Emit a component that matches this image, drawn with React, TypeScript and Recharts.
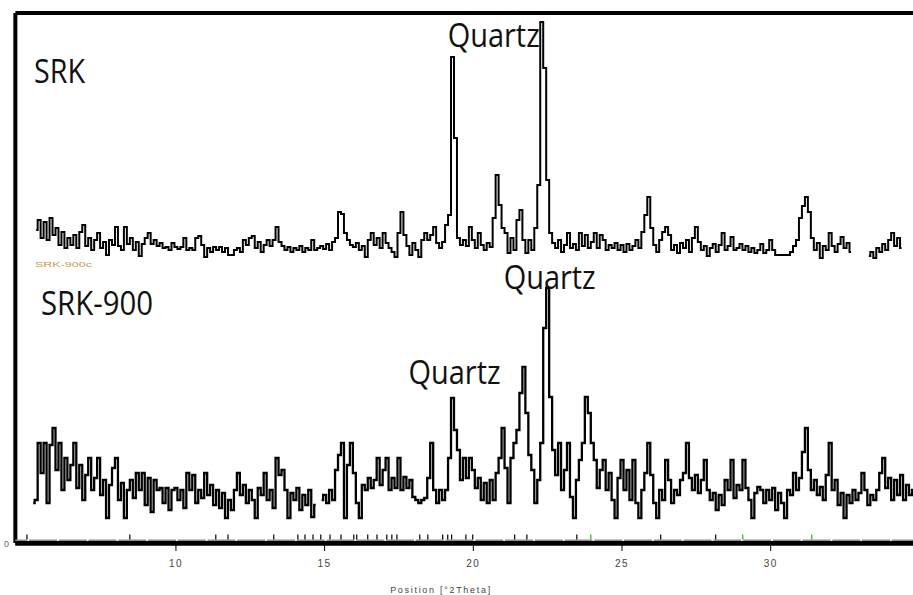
import React from "react";
import { LineChart, Line, XAxis, YAxis, ReferenceLine, ReferenceDot } from "recharts";

// scan grid in °2θ
const SCAN_START = 5.0;
const SCAN_STEP = 0.1;

// SRK counts, one row per degree (x.0 … x.9), 5° to 34°
const srkCounts: (number | null)[][] = [
  [null, null, null, 63, 73, 55, 71, 53, 75, 58],
  [65, 48, 61, 45, 55, 48, 58, 45, 61, 68],
  [47, 55, 43, 53, 60, 45, 51, 38, 53, 48],
  [66, 47, 43, 66, 49, 55, 43, 51, 37, 49],
  [55, 60, 49, 53, 47, 50, 45, 46, 43, 50],
  [46, 44, 46, 55, 43, 45, 43, 55, 57, 48],
  [36, 45, 41, 46, 43, 46, 41, 45, 38, 38],
  [43, 45, 41, 53, 48, 55, 57, 45, 51, 41],
  [48, 53, 47, 53, 66, 51, 47, 43, 46, 41],
  [45, 43, 47, 41, 45, 43, 53, 43, 45, 47],
  [44, 49, 43, 51, 55, 81, 79, 60, 53, 48],
  [46, 50, 43, 47, 36, 53, 60, 48, 55, 45],
  [60, 50, 45, 41, 36, 60, 81, 58, 47, 38],
  [50, 43, 36, 53, 60, 53, 58, 66, 50, 45],
  [51, 68, 78, 236, 155, 55, 48, 53, 47, 66],
  [53, 45, 60, 48, 43, 50, 46, 75, 118, 88],
  [65, 60, 40, 55, 43, 73, 83, 53, 40, 53],
  [43, 65, 108, 271, 225, 113, 60, 50, 45, 53],
  [41, 48, 60, 45, 49, 43, 60, 47, 58, 45],
  [51, 60, 45, 58, 53, 43, 48, 45, 50, 43],
  [48, 41, 49, 43, 47, 53, 45, 61, 78, 96],
  [65, 48, 41, 53, 61, 66, 58, 43, 48, 40],
  [50, 45, 53, 41, 55, 66, 51, 43, 47, 37],
  [45, 49, 41, 48, 60, 43, 47, 56, 43, 45],
  [49, 43, 47, 41, 45, 40, 43, 49, 40, 43],
  [53, 43, 38, 38, 38, 38, 38, 41, 47, 53],
  [75, 87, 96, 81, 55, 43, 50, 35, 47, 43],
  [60, 47, 41, 49, 56, 45, 50, 41, null, null],
  [null, null, null, 37, 41, 35, 45, 41, 49, 43],
  [53, 60, 47, 55, 45, null, null, null, null, null],
];

// SRK-900 counts, same grid
const srk900Counts: (number | null)[][] = [
  [null, null, 40, 43, 100, 70, 100, 40, 98, 115],
  [73, 100, 53, 85, 63, 78, 100, 55, 78, 43],
  [68, 85, 53, 65, 85, 48, 63, 25, 58, 75],
  [85, 43, 60, 25, 53, 63, 45, 70, 53, 70],
  [38, 65, 31, 63, 53, 55, 40, 55, 33, 53],
  [55, 43, 53, 35, 70, 53, 68, 40, 53, 45],
  [70, 48, 58, 38, 53, 35, 50, 25, 43, 33],
  [53, 70, 48, 58, 40, 53, 43, 25, 55, 48],
  [70, 43, 53, 35, 85, 68, 73, 53, 25, 50],
  [43, 55, 33, 48, 38, 53, 26, 38, null, 43],
  [48, 40, 53, 43, 73, 88, 100, 25, 78, 100],
  [70, 40, 25, 58, 53, 65, 55, 63, 85, 58],
  [73, 85, 53, 65, 55, 85, 53, 66, 55, 63],
  [46, 43, 40, 43, 45, 65, 100, 53, 40, 53],
  [43, 53, 85, 145, 113, 93, 63, 85, 65, 85],
  [73, 55, 65, 43, 60, 40, 63, 43, 70, 85],
  [115, 75, 40, 85, 100, 113, 150, 176, 130, 88],
  [73, 40, 63, 100, 215, 255, 146, 93, 68, 100],
  [53, 73, 100, 46, 25, 63, 83, 100, 146, 130],
  [100, 83, 55, 73, 83, 53, 70, 43, 25, 65],
  [83, 53, 73, 43, 83, 40, 25, 53, 70, 100],
  [68, 40, 25, 53, 43, 83, 63, 40, 53, 48],
  [63, 70, 100, 65, 53, 68, 50, 63, 83, 53],
  [43, 50, 33, 48, 38, 63, 53, 83, 45, 58],
  [53, 83, 55, 43, 25, 50, 56, 53, 40, 53],
  [43, 55, 33, 50, 40, 25, 53, 48, 70, 53],
  [65, 91, 115, 73, 53, 63, 48, 56, 43, 68],
  [100, 53, 63, 38, 50, 25, 48, 40, 53, 43],
  [50, 70, 53, 38, 48, 43, 53, 70, 85, 55],
  [65, 43, 63, 48, 68, 43, 58, 48, 53, 50],
];

// upper pattern is lifted above the lower one
const SRK_OFFSET = 250;

// reference pattern sticks along the axis (°2θ)
const refSticks = [
  4.99, 8.45, 11.34, 11.75, 13.29, 14.1, 14.34, 14.61, 14.87, 15.18, 15.55, 15.98, 16.08, 16.45,
  16.76, 17.09, 17.26, 17.43, 18.2, 18.47, 18.97, 19.14, 19.27, 19.75, 19.98, 21.39, 21.8, 23.48,
  26.3, 28.15,
];
const refSticksGreen = [23.95, 29.06, 31.38];

const xTicks = [10, 15, 20, 25, 30];

const srkFlat = srkCounts.flat();
const srk900Flat = srk900Counts.flat();

const data = srkFlat.map((c, i) => ({
  pos: Math.round((SCAN_START + i * SCAN_STEP) * 10) / 10,
  srk: c == null ? null : c + SRK_OFFSET,
  srk900: srk900Flat[i],
}));

type QuartzMark = { key: "srk" | "srk900"; pos: number; dx: number; dy: number; anchor: "end" | "middle" };

const quartzMarks: QuartzMark[] = [
  { key: "srk", pos: 22.3, dx: -2, dy: 25, anchor: "end" },
  { key: "srk900", pos: 22.5, dx: 2, dy: 1, anchor: "middle" },
  { key: "srk900", pos: 19.3, dx: 2, dy: -14, anchor: "middle" },
];

const LABEL_FONT = "'Open Sans', 'Noto Sans', sans-serif";
const SMALL_FONT = "'Liberation Sans', Arial, sans-serif";

function quartzShape(mark: QuartzMark) {
  return (props: { cx?: number; cy?: number }) => (
    <text
      x={(props.cx ?? 0) + mark.dx}
      y={(props.cy ?? 0) + mark.dy}
      textAnchor={mark.anchor}
      fontFamily={LABEL_FONT}
      fontSize={32}
      fill="#111"
      textLength={92}
      lengthAdjust="spacingAndGlyphs"
    >
      Quartz
    </text>
  );
}

export default function App() {
  return (
    <div style={{ position: "absolute", left: 0, top: 0, width: 913, height: 595, overflow: "hidden", background: "#fff" }}>
      <LineChart width={930} height={595} data={data} margin={{ top: 13, right: 10.6, bottom: 22, left: 15.35 }}>
        <XAxis
          type="number"
          dataKey="pos"
          domain={[4.6, 35]}
          ticks={xTicks}
          allowDataOverflow
          height={30}
          axisLine={{ stroke: "#000", strokeWidth: 4 }}
          tickLine={{ stroke: "#000", strokeWidth: 1 }}
          tickSize={8}
          tickMargin={9}
          tick={{ fill: "#444", fontSize: 10, fontFamily: SMALL_FONT, letterSpacing: 1.5 }}
        />
        <YAxis hide domain={[0, 530]} allowDataOverflow />

        {/* frame: top edge, left edge and heavy base line */}
        <ReferenceLine y={530} stroke="#000" strokeWidth={4} />
        <ReferenceLine x={4.6} stroke="#000" strokeWidth={4} />
        <ReferenceLine y={-1} stroke="#000" strokeWidth={3.5} ifOverflow="visible" />

        {/* ruler band just above the axis */}
        <ReferenceLine y={2.5} stroke="#8c8c8c" strokeWidth={2} strokeDasharray="28 1.75" strokeDashoffset={16.1} />

        {refSticks.map((t) => (
          <ReferenceLine key={`s${t}`} segment={[{ x: t, y: 3.5 }, { x: t, y: 8.5 }]} stroke="#000" strokeWidth={1.2} />
        ))}
        {refSticksGreen.map((t) => (
          <ReferenceLine key={`g${t}`} segment={[{ x: t, y: 3.5 }, { x: t, y: 8.5 }]} stroke="#2ea82e" strokeWidth={1.2} />
        ))}

        <Line
          type="step"
          dataKey="srk"
          stroke="#000"
          strokeWidth={2}
          dot={false}
          activeDot={false}
          connectNulls={false}
          isAnimationActive={false}
        />
        <Line
          type="step"
          dataKey="srk900"
          stroke="#000"
          strokeWidth={2.3}
          dot={false}
          activeDot={false}
          connectNulls={false}
          isAnimationActive={false}
        />

        {quartzMarks.map((m) => {
          const row = data.find((d) => d.pos === m.pos);
          return (
            <ReferenceDot
              key={`${m.key}-${m.pos}`}
              x={m.pos}
              y={(row?.[m.key] as number) ?? 0}
              r={0}
              shape={quartzShape(m)}
            />
          );
        })}
      </LineChart>

      {/* sample names, scan tag and axis title */}
      <svg width={913} height={595} style={{ position: "absolute", left: 0, top: 0, pointerEvents: "none" }}>
        <text x={34} y={83} fontFamily={LABEL_FONT} fontSize={33} fill="#111" textLength={51} lengthAdjust="spacingAndGlyphs">
          SRK
        </text>
        <text x={41} y={315} fontFamily={LABEL_FONT} fontSize={32} fill="#111" textLength={112} lengthAdjust="spacingAndGlyphs">
          SRK-900
        </text>
        <text x={35} y={267} fontFamily={SMALL_FONT} fontSize={8} fill="#c49a45" textLength={57} lengthAdjust="spacingAndGlyphs">
          SRK-900c
        </text>
        <text x={4} y={547} fontFamily={SMALL_FONT} fontSize={9} fill="#666">
          0
        </text>
        <text x={441} y={593} textAnchor="middle" fontFamily={SMALL_FONT} fontSize={9} fill="#444" letterSpacing={1.7}>
          Position [°2Theta]
        </text>
      </svg>
    </div>
  );
}
